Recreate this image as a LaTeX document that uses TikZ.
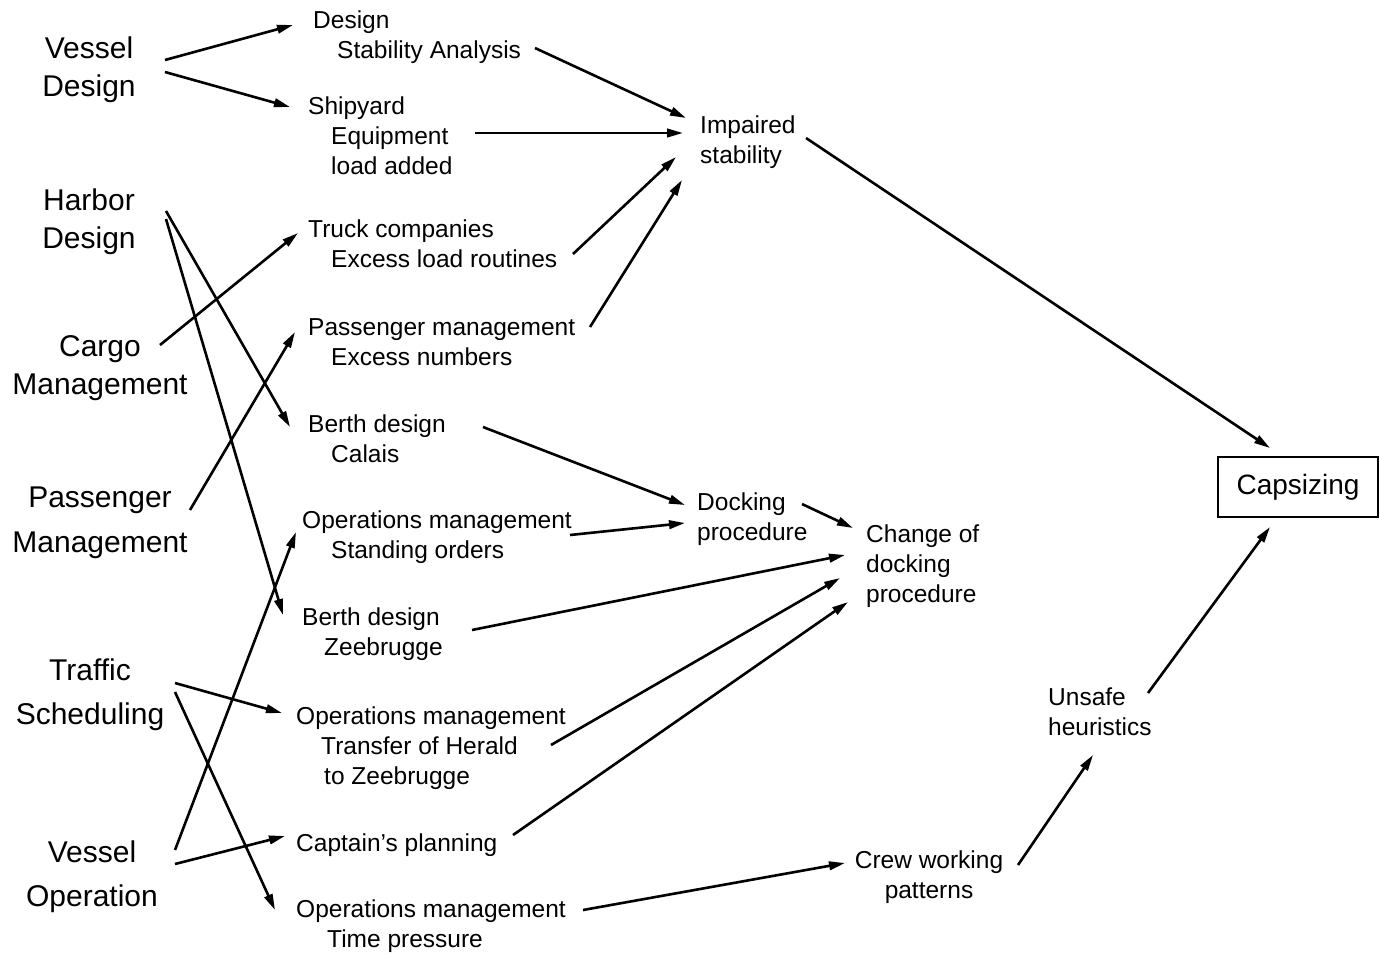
\documentclass[tikz,border=0pt]{standalone}
\usepackage{fontspec}
\setmainfont{Liberation Sans}
\usetikzlibrary{arrows.meta,calc}
\begin{document}
\begin{tikzpicture}[x=1pt,y=-1pt,
  lft/.style={font=\fontsize{30}{38}\selectfont, align=center, inner sep=0pt},
  mid/.style={font=\fontsize{24.5}{30}\selectfont, align=left, inner sep=0pt, anchor=west},
  arr/.style={line width=2.6pt, -{Triangle[length=16pt,width=8.5pt]}}
]
\useasboundingbox (0,0) rectangle (1380,954);

% left column
\node[lft] (vd) at (89,70) {Vessel\\Design};
\node[lft] (hd) at (89,222) {Harbor\\Design};
\node[lft] (cm) at (100,368) {Cargo\\Management};
\node[lft] (pm) at (100,523) {Passenger\\[7pt]Management};
\node[lft] (ts) at (90,695) {Traffic\\[6pt]Scheduling};
\node[lft] (vo) at (92,877) {Vessel\\[6pt]Operation};

% middle column
\node[mid] (sa) at (313,37) {Design\\\hspace*{24pt}Stability Analysis};
\node[mid] (sy) at (308,136) {Shipyard\\\hspace*{23pt}Equipment\\\hspace*{23pt}load added};
\node[mid] (tc) at (308,244) {Truck companies\\\hspace*{23pt}Excess load routines};
\node[mid] (pmg) at (308,342) {Passenger management\\\hspace*{23pt}Excess numbers};
\node[mid] (bc) at (308,439) {Berth design\\\hspace*{23pt}Calais};
\node[mid] (so) at (302,537) {Operations management\\\hspace*{29pt}Standing orders};
\node[mid] (bz) at (302,634) {Berth design\\\hspace*{22pt}Zeebrugge};
\node[mid] (th) at (296,748) {Operations management\\\hspace*{25pt}Transfer of Herald\\\hspace*{28pt}to Zeebrugge};
\node[mid] (cp) at (296,845) {Captain's planning};
\node[mid] (tp) at (296,926) {Operations management\\\hspace*{31pt}Time pressure};

% right part
\node[mid] (is) at (700,142) {Impaired\\stability};
\node[mid] (dp) at (697,519) {Docking\\procedure};
\node[mid] (cd) at (866,566) {Change of\\docking\\procedure};
\node[mid, anchor=center, align=center] (cw) at (929,877) {Crew working\\patterns};
\node[mid] (uh) at (1048,712) {Unsafe\\heuristics};
\node[draw, line width=2.5pt, minimum width=160pt, minimum height=60pt, inner sep=0pt,
      font=\fontsize{28}{34}\selectfont] (cap) at (1298,487) {Capsizing};

% connectors
\draw[arr] ([shift={(76,-10)}]vd.center) -- ([shift={(-20,-12)}]sa.west);
\draw[arr] ([shift={(76,2)}]vd.center) -- ([shift={(-18,-29)}]sy.west);
\draw[arr] ([shift={(222,11)}]sa.west) -- ([shift={(-14,-24)}]is.west);
\draw[arr] ([shift={(167,-3)}]sy.west) -- ([shift={(-17,-9)}]is.west);
\draw[arr] ([shift={(265,10)}]tc.west) -- ([shift={(-24,15)}]is.west);
\draw[arr] ([shift={(282,-15)}]pmg.west) -- ([shift={(-18,38)}]is.west);
\draw[arr] ([shift={(77,-11)}]hd.center) -- ([shift={(-18,-12)}]bc.west);
\draw[arr] ([shift={(77,-3)}]hd.center) -- ([shift={(-19,-19)}]bz.west);
\draw[arr] ([shift={(60,-23)}]cm.center) -- ([shift={(-10,-11)}]tc.west);
\draw[arr] ([shift={(90,-13)}]pm.center) -- ([shift={(-13,-10)}]pmg.west);
\draw[arr] ([shift={(175,-12)}]bc.west) -- ([shift={(-12,-14)}]dp.west);
\draw[arr] ([shift={(268,-2)}]so.west) -- ([shift={(-12,4)}]dp.west);
\draw[arr] ([shift={(105,-15)}]dp.west) -- ([shift={(-13,-38)}]cd.west);
\draw[arr] ([shift={(170,-4)}]bz.west) -- ([shift={(-21,-11)}]cd.west);
\draw[arr] ([shift={(255,-3)}]th.west) -- ([shift={(-26,12)}]cd.west);
\draw[arr] ([shift={(217,-10)}]cp.west) -- ([shift={(-18,36)}]cd.west);
\draw[arr] ([shift={(85,-12)}]ts.center) -- ([shift={(-14,-35)}]th.west);
\draw[arr] ([shift={(85,-3)}]ts.center) -- ([shift={(-21,-16)}]tp.west);
\draw[arr] ([shift={(83,-27)}]vo.center) -- ([shift={(-6,-5)}]so.west);
\draw[arr] ([shift={(83,-13)}]vo.center) -- ([shift={(-11,-9)}]cp.west);
\draw[arr] ([shift={(287,-16)}]tp.west) -- ([shift={(-84,-14)}]cw.center);
\draw[arr] ([shift={(89,-12)}]cw.center) -- ([shift={(45,43)}]uh.west);
\draw[arr] ([shift={(100,-19)}]uh.west) -- ([shift={(-28,40)}]cap.center);
\draw[arr] ([shift={(106,-4)}]is.west) -- ([shift={(-28,-39)}]cap.center);
\end{tikzpicture}
\end{document}
